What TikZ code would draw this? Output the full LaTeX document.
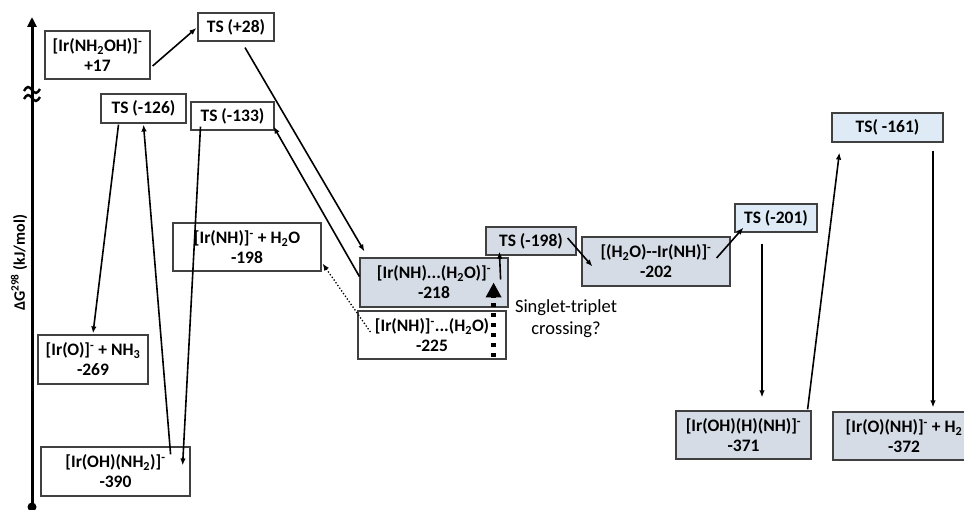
\documentclass[tikz,border=0pt]{standalone}
\usepackage{fontspec}
\setmainfont{Carlito}
\usepackage{xcolor}
\usetikzlibrary{arrows.meta,calc}

\definecolor{greyfill}{HTML}{D6DCE5}
\definecolor{palefill}{HTML}{DEEBF7}

\begin{document}
\begin{tikzpicture}[x=1pt,y=-1pt,
  lvl/.style={draw=black!75,line width=1.2pt,fill=white,align=center,inner sep=0pt,
    font=\fontsize{17.5}{20}\selectfont\bfseries},
  grey/.style={lvl,fill=greyfill},
  pale/.style={lvl,fill=palefill},
  path/.style={line width=1.6pt,-{Latex[length=7pt,width=5.5pt]}}]
  \useasboundingbox (0,0) rectangle (964,510);

  % energy axis
  \coordinate (axbot) at (32,507);
  \coordinate (axtop) at (32,17);
  \draw[line width=3pt,-{Triangle[length=10pt,width=9pt]}] (axbot) -- (axtop);
  \fill (axbot) circle (4.5pt);
  \foreach \y in {90,98} \draw[line width=2.4pt] (24,{\y+1}) sin (28,{\y-3}) cos (32,\y) sin (36,{\y+3}) cos (40,{\y-1});
  \node[rotate=90,font=\fontsize{16}{18}\selectfont\bfseries] (ylabel) at (19,263) {ΔG\textsuperscript{298} (kJ/mol)};

  % levels
  \node[lvl,minimum width=105pt,minimum height=48pt] (nh2oh) at (97.5,55) {[Ir(NH\textsubscript{2}OH)]\textsuperscript{-}\\+17};
  \node[lvl,minimum width=76pt,minimum height=28pt] (ts28) at (236,27) {TS (+28)};
  \node[lvl,minimum width=85pt,minimum height=29pt] (ts126) at (143.5,108.5) {TS (-126)};
  \node[lvl,minimum width=83pt,minimum height=28pt] (ts133) at (232.5,116) {TS (-133)};
  \node[lvl,minimum width=148pt,minimum height=48pt] (nhh2o) at (247,247) {[Ir(NH)]\textsuperscript{-} + H\textsubscript{2}O\\-198};
  \node[grey,minimum width=148pt,minimum height=49pt] (c218) at (434,282.5) {[Ir(NH)...(H\textsubscript{2}O)]\textsuperscript{-}\\-218};
  \node[lvl,minimum width=148pt,minimum height=48pt] (c225) at (432,335) {[Ir(NH)]\textsuperscript{-}...(H\textsubscript{2}O)\\-225};
  \node[grey,minimum width=90pt,minimum height=28pt] (ts198) at (531,241) {TS (-198)};
  \node[grey,minimum width=148pt,minimum height=49pt] (c202) at (656,261.5) {[(H\textsubscript{2}O)-{}-Ir(NH)]\textsuperscript{-}\\-202};
  \node[pale,minimum width=82pt,minimum height=28pt] (ts201) at (776,218) {TS (-201)};
  \node[pale,minimum width=111pt,minimum height=29pt] (ts161) at (887.5,127.5) {TS( -161)};
  \node[grey,minimum width=135pt,minimum height=48pt] (c371) at (743.5,435) {[Ir(OH)(H)(NH)]\textsuperscript{-}\\-371};
  \node[grey,minimum width=142pt,minimum height=48pt] (c372) at (904,436) {[Ir(O)(NH)]\textsuperscript{-} + H\textsubscript{2}\\-372};
  \node[lvl,minimum width=110pt,minimum height=49pt] (o269) at (93,359.5) {[Ir(O)]\textsuperscript{-} + NH\textsubscript{3}\\-269};
  \node[lvl,minimum width=149pt,minimum height=49pt] (c390) at (115.5,471.5) {[Ir(OH)(NH\textsubscript{2})]\textsuperscript{-}\\-390};

  \node[align=center,font=\fontsize{18.5}{22}\selectfont] (stnote) at (566,319) {Singlet-triplet\\crossing?};

  % steps
  \draw[path] ($(nh2oh.east)+(2,11)$) -- ($(ts28.west)+(-1,1)$);
  \draw[path] ($(ts28.south)+(9,6)$) -- ($(c218.north west)+(5,-6)$);
  \draw[path] ($(c218.west)+(0,-6)$) -- ($(ts133.south east)+(-1,-4)$);
  \draw[path] ($(ts126.south)+(-25,1)$) -- ($(o269.north)+(0,-1)$);
  \draw[path] ($(c390.north east)+(-20,8)$) -- ($(ts126.south)+(0,1)$);
  \draw[path] ($(ts133.south)+(-32,-4)$) -- ($(c390.north east)+(-8,19)$);
  \draw[path,line width=1.3pt,dotted] ($(c225.west)+(13,-3)$) -- ($(nhh2o.south east)+(1,-8)$);
  \draw[path] ($(c218.east)+(-8,-3)$) -- ($(ts198.south west)+(14,-4)$);
  \draw[line width=4.5pt,dash pattern=on 4pt off 6pt,-{Triangle[length=15pt,width=15pt]}] ($(c225.east)+(-13,22)$) -- ($(c218.east)+(-15,0)$);
  \draw[path] ($(ts198.east)+(-9,-3)$) -- ($(c202.west)+(11,5)$);
  \draw[path] ($(c202.east)+(-14,-3.5)$) -- ($(ts201.south west)+(9,-5)$);
  \draw[path] ($(ts201.south)+(-14,11)$) -- ($(c371.north)+(18.5,-13)$);
  \draw[path] ($(c371.north east)+(-4,-1)$) -- ($(ts161.south west)+(8,10)$);
  \draw[path] ($(ts161.south)+(45.5,8)$) -- ($(c372.north)+(29,-4)$);
\end{tikzpicture}
\end{document}
